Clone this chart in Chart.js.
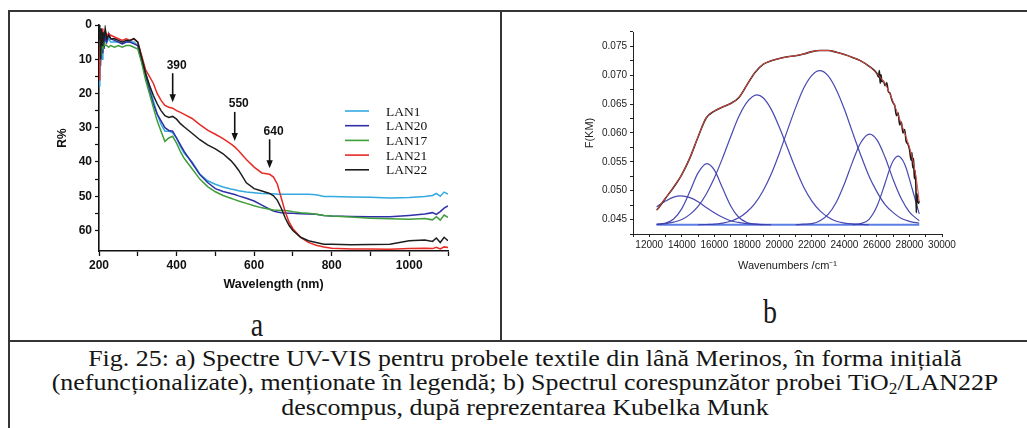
<!DOCTYPE html>
<html lang="ro">
<head>
<meta charset="utf-8">
<title>Fig. 25</title>
<script src="https://cdn.jsdelivr.net/npm/chart.js@4.4.1/dist/chart.umd.min.js"></script>
<style>
html,body{margin:0;padding:0;background:#fff;}
body{width:1027px;height:428px;position:relative;overflow:hidden;}
.ln{position:absolute;background:#353535;}
canvas{position:absolute;}
.lab{position:absolute;width:40px;text-align:center;font-family:"Liberation Serif","Times New Roman",serif;font-size:28px;line-height:28px;color:#1a1a1a;transform:scaleY(1.2);transform-origin:50% 0;}
#cap{position:absolute;left:9px;top:345.6px;width:1032px;text-align:center;font-family:"Liberation Serif","Times New Roman",serif;font-size:24px;line-height:24.5px;color:#151515;white-space:nowrap;transform:scaleX(1.08);transform-origin:50% 0;}
#cap sub{font-size:16px;line-height:0;vertical-align:-4px;}
</style>
</head>
<body>
<div class="ln" style="left:9px;top:10px;width:1018px;height:2px"></div>
<div class="ln" style="left:8px;top:10px;width:2px;height:418px"></div>
<div class="ln" style="left:500px;top:10px;width:2px;height:331px"></div>
<div class="ln" style="left:8px;top:340px;width:1019px;height:2px"></div>
<canvas id="ca" width="490" height="284" style="left:10px;top:12px"></canvas>
<canvas id="cb" width="525" height="265" style="left:502px;top:12px"></canvas>
<div class="lab" style="left:237px;top:307.6px">a</div>
<div class="lab" style="left:750px;top:295.2px">b</div>
<div id="cap">Fig. 25: a) Spectre UV-VIS pentru probele textile din lână Merinos, în forma inițială<br>(nefuncționalizate), menționate în legendă; b) Spectrul corespunzător probei TiO<sub>2</sub>/LAN22P<br>descompus, după reprezentarea Kubelka Munk</div>
<script>
// ---------- Panel a: UV-VIS reflectance spectra ----------
const wl = [200,202,204,206,208,210,213,216,220,225,230,240,250,260,270,280,290,300,310,320,330,340,350,360,370,380,390,400,410,420,440,460,480,500,520,540,550,560,580,600,620,640,650,660,670,680,690,700,720,740,760,780,800,850,900,950,1000,1040,1060,1070,1080,1090,1100];
const seriesNames = ['LAN1','LAN20','LAN17','LAN21','LAN22'];
const lan1 = [14,18,8,3,10,5, 6,4,5,4,5, 5,5,5.5,5,5,5,6, 10,14,18,22,26,29,31,31,31.5,33, 35.5,37.5,40,43.5,45.5,46.5,47.3,47.9,48.1,48.4,48.8,49, 49.2,49.3,49.3,49.4,49.4,49.4,49.4,49.4, 49.4,49.4,49.6,50.1,50.1, 50.2,50.3,50.5,50.4, 50.1,49.8,49.2,50,48.8,49.4];
const lan20 = [10,4,12,2,8,3, 7,3,5,2.5,4, 4.5,5,5.5,5,5,5.5,6, 10.5,15,19,23,26,28,30,30.8,31,33, 35,37,40.3,43.7,46,47.8,48.6,49.2,49.5,49.9,50.6,51.4, 52.6,53.8,54.3,54.6,54.8,54.9,55,55, 55.1,55.2,55.3,55.6,55.8, 55.9,56,56,55.6, 55.2,54.8,55.3,54.5,53.5,52.8];
const lan17 = [6,12,3,9,5,7, 5,6,6,6.5,6, 6.5,6,6.5,6,6,6.5,7, 11,16,20,24,28,31,34,33,32.5,34.5, 37,39,42,45,47.2,48.7,49.8,50.6,51,51.4,52.1,52.8, 53.4,53.8,54,54.1,54.2,54.2,54.3,54.5, 54.8,55,55.3,55.6,55.8, 56.1,56.4,56.6,56.7, 56.5,56.9,56,57,55.5,56.2];
const lan21 = [16,9,2,6,1,4, 3,2,3,2.5,3, 3.5,4,4.5,4,4.5,4,5, 9,13,15,17,20,22,23.5,24,24.3,25, 25.5,26.1,27.3,29.1,30.7,31.9,33.2,34.7,35.6,36.7,39.3,41.5, 43.2,43.6,44.4,46.5,50.5,54.5,57.5,59.5, 62,63.5,64.3,64.8,65.2, 65.4,65.4,65.5,65.3, 65.2,65.3,64.9,65.4,64.8,65];
const lan22 = [4,0,10,1,6,2, 4,1,4,3,4, 4,4.5,5,4.5,4.5,4,5, 9.5,14,17.5,20.5,23,25,26.5,27,26.7,27.5, 28.8,29.8,31.6,33.5,35,36.2,37.6,39.6,40.9,42.4,46.1,47.8, 48.5,49.2,49.9,51.2,53.5,56.3,58.5,60, 62,63,63.5,64,64, 64.2,64.1,64,63, 62.8,63.2,62.2,63.5,62,63];
const peakNm = [390, 550, 640];
const peakLabels = ['390', '550', '640'];
const aXTickLabels = [200, 400, 600, 800, 1000];
const aYTickLabels = [0, 10, 20, 30, 40, 50, 60];

// ---------- Panel b: Kubelka-Munk deconvolution ----------
const kmBaseline = [[12450,0.0441],[28600,0.0441]];
const kmMeasured = [[12450,0.0467],[12500,0.0468],[13000,0.0487],[13500,0.0506],[14000,0.0528],[14500,0.0557],[15000,0.0593],[15500,0.0626],[16000,0.0638],[16500,0.0645],[17000,0.0651],[17500,0.0661],[18000,0.0683],[18500,0.0705],[19000,0.0719],[19500,0.0725],[20000,0.0729],[20500,0.0732],[21000,0.0734],[21500,0.0737],[22000,0.0741],[22500,0.0743],[23000,0.0743],[23500,0.0740],[24000,0.0736],[24500,0.0731],[25000,0.0725],[25500,0.0716],[26000,0.0703],[26100,0.0697],[26150,0.0708],[26200,0.0686],[26250,0.0701],[26300,0.0689],[26400,0.0690],[26500,0.0682],[26600,0.0687],[26700,0.0672],[26800,0.0669],[26900,0.0659],[27000,0.0652],[27100,0.0647],[27200,0.0630],[27300,0.0635],[27400,0.0614],[27500,0.0619],[27600,0.0600],[27700,0.0606],[27800,0.0585],[27900,0.0581],[28000,0.0572],[28100,0.0553],[28150,0.0566],[28200,0.0540],[28250,0.0556],[28300,0.0521],[28350,0.0535],[28400,0.0500],[28420,0.0462],[28450,0.0495],[28500,0.0485],[28550,0.0478],[28600,0.0482]];
const kmFit = [[12450,0.0466],[12500,0.0468],[13000,0.0487],[13500,0.0506],[14000,0.0528],[14500,0.0557],[15000,0.0593],[15500,0.0626],[16000,0.0638],[16500,0.0645],[17000,0.0651],[17500,0.0661],[18000,0.0683],[18500,0.0705],[19000,0.0719],[19500,0.0725],[20000,0.0729],[20500,0.0732],[21000,0.0734],[21500,0.0737],[22000,0.0741],[22500,0.0743],[23000,0.0743],[23500,0.0740],[24000,0.0736],[24500,0.0731],[25000,0.0725],[25500,0.0716],[26000,0.0703],[26500,0.0685],[27000,0.0654],[27500,0.0616],[28000,0.0575],[28300,0.0540],[28500,0.0505],[28600,0.0480]];
const peak1 = [[12450,0.0472],[12500,0.0473],[13000,0.0482],[13500,0.0489],[13950,0.0491],[14500,0.0488],[15000,0.0481],[15500,0.0471],[16000,0.0462],[16500,0.0454],[17000,0.0448],[17500,0.0445],[18000,0.0443],[18500,0.0442],[19500,0.0441]];
const peak2 = [[12450,0.04415],[13000,0.0444],[13500,0.0451],[14000,0.0469],[14500,0.0499],[15000,0.0531],[15550,0.0547],[16000,0.0536],[16500,0.0505],[17000,0.0474],[17500,0.0454],[18000,0.0445],[18500,0.0442],[19000,0.0441]];
const peak3 = [[12450,0.0442],[13000,0.0443],[13500,0.04455],[14000,0.0450],[14500,0.0459],[15000,0.0473],[15500,0.0494],[16000,0.0522],[16500,0.0556],[17000,0.0593],[17500,0.0628],[18000,0.0653],[18620,0.0666],[19000,0.0661],[19500,0.0641],[20000,0.0610],[20500,0.0574],[21000,0.0538],[21500,0.0506],[22000,0.0482],[22500,0.0465],[23000,0.0454],[23500,0.0447],[24000,0.0444],[24500,0.04425],[25500,0.0441]];
const peak4 = [[15000,0.0441],[15500,0.04415],[16000,0.0442],[16500,0.0444],[17000,0.0447],[17500,0.0453],[18000,0.0463],[18500,0.0478],[19000,0.0500],[19500,0.0529],[20000,0.0565],[20500,0.0605],[21000,0.0644],[21500,0.0678],[22000,0.0700],[22480,0.0708],[23000,0.0699],[23500,0.0675],[24000,0.0641],[24500,0.0601],[25000,0.0562],[25500,0.0526],[26000,0.0498],[26500,0.0476],[27000,0.0462],[27500,0.0452],[28000,0.0447],[28600,0.04436]];
const peak5 = [[21000,0.0441],[21500,0.0442],[22000,0.0443],[22500,0.0448],[23000,0.0459],[23500,0.0480],[24000,0.0512],[24500,0.0550],[25000,0.0583],[25550,0.0598],[26000,0.0588],[26500,0.0558],[27000,0.0519],[27500,0.0486],[28000,0.0463],[28600,0.0448]];
const peak6 = [[24500,0.0441],[25000,0.0443],[25500,0.0450],[26000,0.0473],[26500,0.0513],[26800,0.0539],[27000,0.0552],[27300,0.0560],[27600,0.0552],[27800,0.0539],[28000,0.0520],[28200,0.0500],[28400,0.0480],[28600,0.0460]];
const bXTickLabels = [12000,14000,16000,18000,20000,22000,24000,26000,28000,30000];
const bYTickLabels = [0.045,0.050,0.055,0.060,0.065,0.070,0.075];

// ---------- styles ----------
const colorsA = ['#33a9e0', '#2f30a8', '#3f9e3a', '#e62a24', '#1d1d1d'];
const SANS = '"Liberation Sans", Arial, Helvetica, sans-serif';
const SERIF = '"Liberation Serif", "Times New Roman", serif';
Chart.defaults.font.family = SANS;

const seriesValues = [lan1, lan20, lan17, lan21, lan22];
const toXY = arr => arr.map(p => ({x: p[0], y: p[1]}));

const arrowPlugin = {
  id: 'peakArrows',
  afterDatasetsDraw(chart) {
    const {ctx, scales: {x, y}} = chart;
    ctx.save();
    ctx.strokeStyle = '#111'; ctx.fillStyle = '#111'; ctx.lineWidth = 1.6;
    ctx.font = 'bold 12px ' + SANS;
    ctx.textAlign = 'center'; ctx.textBaseline = 'middle';
    peakNm.forEach((nm, i) => {
      const px = x.getPixelForValue(nm);
      const k = wl.indexOf(nm);
      const tip = y.getPixelForValue(lan21[k]) - 6;
      const tail = tip - 29;
      ctx.beginPath(); ctx.moveTo(px, tail); ctx.lineTo(px, tip - 6); ctx.stroke();
      ctx.beginPath(); ctx.moveTo(px - 3.2, tip - 8); ctx.lineTo(px + 3.2, tip - 8); ctx.lineTo(px, tip); ctx.closePath(); ctx.fill();
      ctx.fillText(peakLabels[i], px + 4, tail - 8);
    });
    ctx.restore();
  }
};

const legendPlugin = {
  id: 'insideLegend',
  afterDatasetsDraw(chart) {
    const {ctx, chartArea: ca} = chart;
    ctx.save();
    ctx.font = '13.5px ' + SERIF;
    ctx.textBaseline = 'middle'; ctx.textAlign = 'left'; ctx.fillStyle = '#111';
    chart.data.datasets.forEach((ds, i) => {
      const yy = ca.top + 86 + i * 14.7;
      ctx.strokeStyle = ds.borderColor; ctx.lineWidth = 1.6;
      ctx.beginPath(); ctx.moveTo(ca.right - 103, yy); ctx.lineTo(ca.right - 79, yy); ctx.stroke();
      ctx.fillText(ds.label, ca.right - 62, yy + 1);
    });
    ctx.restore();
  }
};

new Chart(document.getElementById('ca'), {
  type: 'line',
  data: {
    datasets: seriesNames.map((name, i) => ({
      label: name,
      data: wl.map((w, k) => ({x: w, y: seriesValues[i][k]})),
      borderColor: colorsA[i], borderWidth: 1.5, pointRadius: 0, tension: 0, fill: false,
      order: seriesNames.length - i
    }))
  },
  options: {
    responsive: false, animation: false, events: [],
    layout: {padding: {left: 41, top: 13, right: 52, bottom: 0}},
    plugins: {legend: {display: false}, tooltip: {enabled: false}},
    scales: {
      x: {
        type: 'linear', min: 200, max: 1100,
        afterFit: s => { s.height = 45; },
        afterBuildTicks: s => { s.ticks = s.ticks.filter(t => t.value % 100 === 0); },
        ticks: {stepSize: 100, autoSkip: false, maxRotation: 0, padding: 2, color: '#111',
          font: {size: 12, weight: 'bold'},
          callback: v => aXTickLabels.includes(v) ? String(v) : ''},
        grid: {drawOnChartArea: false, tickLength: 5, tickColor: '#111', tickWidth: 1.3},
        border: {color: '#111', width: 1.6},
        title: {display: true, text: 'Wavelength (nm)', color: '#111', font: {size: 12.5, weight: 'bold'}}
      },
      y: {
        type: 'linear', reverse: true, min: 0, max: 66,
        afterFit: s => { s.width = 48; },
        afterBuildTicks: s => { s.ticks = s.ticks.filter(t => t.value % 5 === 0); },
        ticks: {stepSize: 5, autoSkip: false, padding: 3, color: '#111',
          font: {size: 12, weight: 'bold'},
          callback: v => aYTickLabels.includes(v) ? String(v) : ''},
        grid: {drawOnChartArea: false, tickLength: 4, tickColor: '#111', tickWidth: 1.2},
        border: {color: '#111', width: 1.6},
        title: {display: true, text: 'R%', color: '#111', font: {size: 12, weight: 'bold'}}
      }
    }
  },
  plugins: [arrowPlugin, legendPlugin]
});

const peakColor = 'rgba(62,62,172,0.95)';
const peaks = [peak1, peak2, peak3, peak4, peak5, peak6];
const dsB = [
  {label: 'Fit', data: toXY(kmFit), borderColor: '#e4463c', borderWidth: 1, order: 1},
  {label: 'F(KM)', data: toXY(kmMeasured), borderColor: '#1c1c1c', borderWidth: 1.6, order: 2},
  ...peaks.map((p, i) => ({label: 'Peak ' + (i + 1), data: toXY(p), borderColor: peakColor, borderWidth: 1.2, order: 5})),
  {label: 'Baseline', data: toXY(kmBaseline), borderColor: '#5b7fe6', borderWidth: 2, order: 9}
].map(d => Object.assign({pointRadius: 0, fill: false, cubicInterpolationMode: 'monotone'}, d));

new Chart(document.getElementById('cb'), {
  type: 'line',
  data: {datasets: dsB},
  options: {
    responsive: false, animation: false, events: [],
    layout: {padding: {left: 77, top: 20, right: 85, bottom: 0}},
    plugins: {legend: {display: false}, tooltip: {enabled: false}},
    scales: {
      x: {
        type: 'linear', min: 11000, max: 30000,
        afterFit: s => { s.height = 43; },
        ticks: {stepSize: 1000, autoSkip: false, maxRotation: 0, padding: 2, color: '#222',
          font: {size: 10},
          callback: v => bXTickLabels.includes(v) ? String(v) : ''},
        grid: {drawOnChartArea: false, tickLength: 3, tickColor: '#222', tickWidth: 1},
        border: {color: '#222', width: 1},
        title: {display: true, text: 'Wavenumbers /cm\u207B\u00B9', color: '#222', font: {size: 11}}
      },
      y: {
        type: 'linear', min: 0.0425, max: 0.0775,
        afterFit: s => { s.width = 54; },
        afterBuildTicks: s => {
          const t = [];
          for (let k = 0; k <= 14; k++) t.push({value: 0.0425 + k * 0.0025});
          s.ticks = t;
        },
        ticks: {autoSkip: false, padding: 3, color: '#222', font: {size: 10},
          callback: v => { const L = bYTickLabels.find(L => Math.abs(L - v) < 1e-7); return L === undefined ? '' : L.toFixed(3); }},
        grid: {drawOnChartArea: false, tickLength: 3, tickColor: '#222', tickWidth: 1},
        border: {color: '#222', width: 1},
        title: {display: true, text: 'F(KM)', color: '#222', font: {size: 11}}
      }
    }
  }
});
</script>
</body>
</html>
